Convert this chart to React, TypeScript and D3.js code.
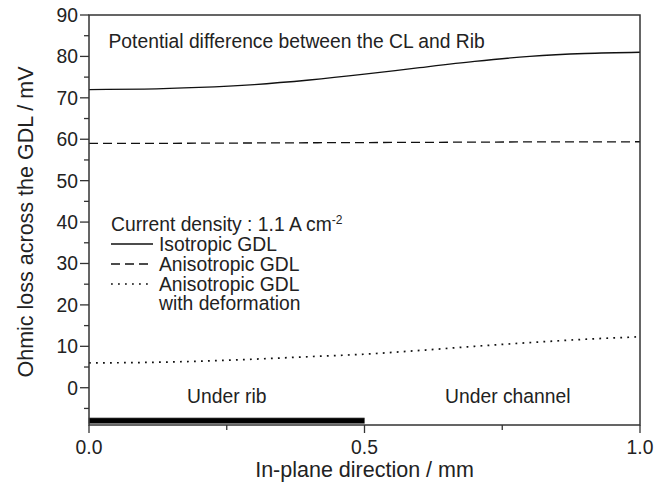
import React from "react";
import * as d3 from "d3";

// In-plane position (mm) shared by all three profiles
const positions = [0, 0.1, 0.2, 0.3, 0.4, 0.5, 0.6, 0.7, 0.8, 0.9, 1.0];
// Ohmic loss across the GDL (mV)
const isotropic = [72.0, 72.1, 72.5, 73.2, 74.3, 75.7, 77.3, 78.8, 80.0, 80.7, 81.0];
const anisotropic = [59.0, 59.0, 59.05, 59.1, 59.15, 59.2, 59.25, 59.3, 59.35, 59.35, 59.4];
const anisotropicDeformed = [6.0, 6.1, 6.4, 6.9, 7.5, 8.1, 9.0, 10.0, 10.9, 11.7, 12.3];

const yMajorTicks = [0, 10, 20, 30, 40, 50, 60, 70, 80, 90];
const yMinorTicks = [-5, 5, 15, 25, 35, 45, 55, 65, 75, 85];
const xMajorTicks = [0, 0.5, 1.0];
const xMinorTicks = [0.25, 0.75];
const ribSpan = [0, 0.5];

const DASHED = "9,5";
const DOTTED = "1.8,5.2";

const legendEntries = [
  { label: "Isotropic GDL", dash: "none", width: 1.3 },
  { label: "Anisotropic GDL", dash: DASHED, width: 1.3 },
  { label: "Anisotropic GDL", dash: DOTTED, width: 1.7 },
];

const W = 670;
const H = 490;
const left = 89;
const right = 640;
const top = 15;
const bottom = 425;
const font = "Liberation Sans, Arial, sans-serif";
const axisColor = "#333";
const textColor = "#222";
const fs = 19.3;
const titleFs = 21.5;

export default function App() {
  const x = d3.scaleLinear().domain([0, 1]).range([left, right]);
  const y = d3.scaleLinear().domain([-9, 90]).range([bottom, top]);
  const line = d3
    .line<number>()
    .x((_, i) => x(positions[i]))
    .y((d) => y(d))
    .curve(d3.curveMonotoneX);

  const series = [
    { values: isotropic, dash: "none", width: 1.3 },
    { values: anisotropic, dash: DASHED, width: 1.3 },
    { values: anisotropicDeformed, dash: DOTTED, width: 1.7 },
  ];

  const legendX = 111;
  const legendTextX = 159;
  const rowCenters = [224, 244, 264, 284, 303.5];

  return (
    <svg
      width={W}
      height={H}
      style={{ position: "absolute", left: 0, top: 0, background: "#fff" }}
      fontFamily={font}
    >
      {/* curves */}
      {series.map((s, i) => (
        <path
          key={i}
          d={line(s.values) ?? ""}
          fill="none"
          stroke="#111"
          strokeWidth={s.width}
          strokeDasharray={s.dash}
        />
      ))}

      {/* rib region bar */}
      <rect
        x={x(ribSpan[0])}
        y={y(-7.3)}
        width={x(ribSpan[1]) - x(ribSpan[0])}
        height={y(-8.6) - y(-7.3)}
        fill="#000"
        stroke="#555"
        strokeWidth={0.6}
      />

      {/* frame */}
      <rect
        x={left}
        y={top}
        width={right - left}
        height={bottom - top}
        fill="none"
        stroke={axisColor}
        strokeWidth={1.5}
      />

      {/* y ticks */}
      {yMajorTicks.map((t) => (
        <g key={"ym" + t}>
          <line x1={left - 9} x2={left} y1={y(t)} y2={y(t)} stroke={axisColor} strokeWidth={1.3} />
          <text
            x={left - 11}
            y={y(t)}
            dy="0.36em"
            textAnchor="end"
            fontSize={fs}
            fill={textColor}
          >
            {t}
          </text>
        </g>
      ))}
      {yMinorTicks.map((t) => (
        <line key={"yn" + t} x1={left - 5} x2={left} y1={y(t)} y2={y(t)} stroke={axisColor} strokeWidth={1.3} />
      ))}

      {/* x ticks */}
      {xMajorTicks.map((t) => (
        <g key={"xm" + t}>
          <line x1={x(t)} x2={x(t)} y1={bottom} y2={bottom + 8} stroke={axisColor} strokeWidth={1.3} />
          <text x={x(t)} y={454} textAnchor="middle" fontSize={fs} fill={textColor}>
            {d3.format(".1f")(t)}
          </text>
        </g>
      ))}
      {xMinorTicks.map((t) => (
        <line key={"xn" + t} x1={x(t)} x2={x(t)} y1={bottom} y2={bottom + 5} stroke={axisColor} strokeWidth={1.3} />
      ))}

      {/* axis titles */}
      <text x={x(0.5)} y={477} textAnchor="middle" fontSize={titleFs} fill={textColor}>
        In-plane direction / mm
      </text>
      <text
        transform={`translate(33, 222) rotate(-90)`}
        textAnchor="middle"
        fontSize={titleFs}
        fill={textColor}
      >
        Ohmic loss across the GDL / mV
      </text>

      {/* annotations */}
      <text x={108.5} y={48} fontSize={fs} fill={textColor}>
        Potential difference between the CL and Rib
      </text>
      <text x={x(0.25)} y={403} textAnchor="middle" fontSize={fs} fill={textColor}>
        Under rib
      </text>
      <text x={x(0.76)} y={403} textAnchor="middle" fontSize={fs} fill={textColor}>
        Under channel
      </text>

      {/* legend */}
      <text x={legendX} y={rowCenters[0]} dy="0.36em" fontSize={fs} fill={textColor}>
        Current density : 1.1 A cm
        <tspan dy={-7} fontSize={12}>-2</tspan>
      </text>
      {legendEntries.map((e, i) => {
        const cy = rowCenters[i + 1];
        return (
          <g key={i}>
            <line
              x1={legendX}
              x2={legendX + 42}
              y1={cy}
              y2={cy}
              stroke="#111"
              strokeWidth={e.width}
              strokeDasharray={e.dash}
            />
            <text x={legendTextX} y={cy} dy="0.36em" fontSize={fs} fill={textColor}>
              {e.label}
            </text>
          </g>
        );
      })}
      <text x={legendTextX} y={rowCenters[4]} dy="0.36em" fontSize={fs} fill={textColor}>
        with deformation
      </text>
    </svg>
  );
}
